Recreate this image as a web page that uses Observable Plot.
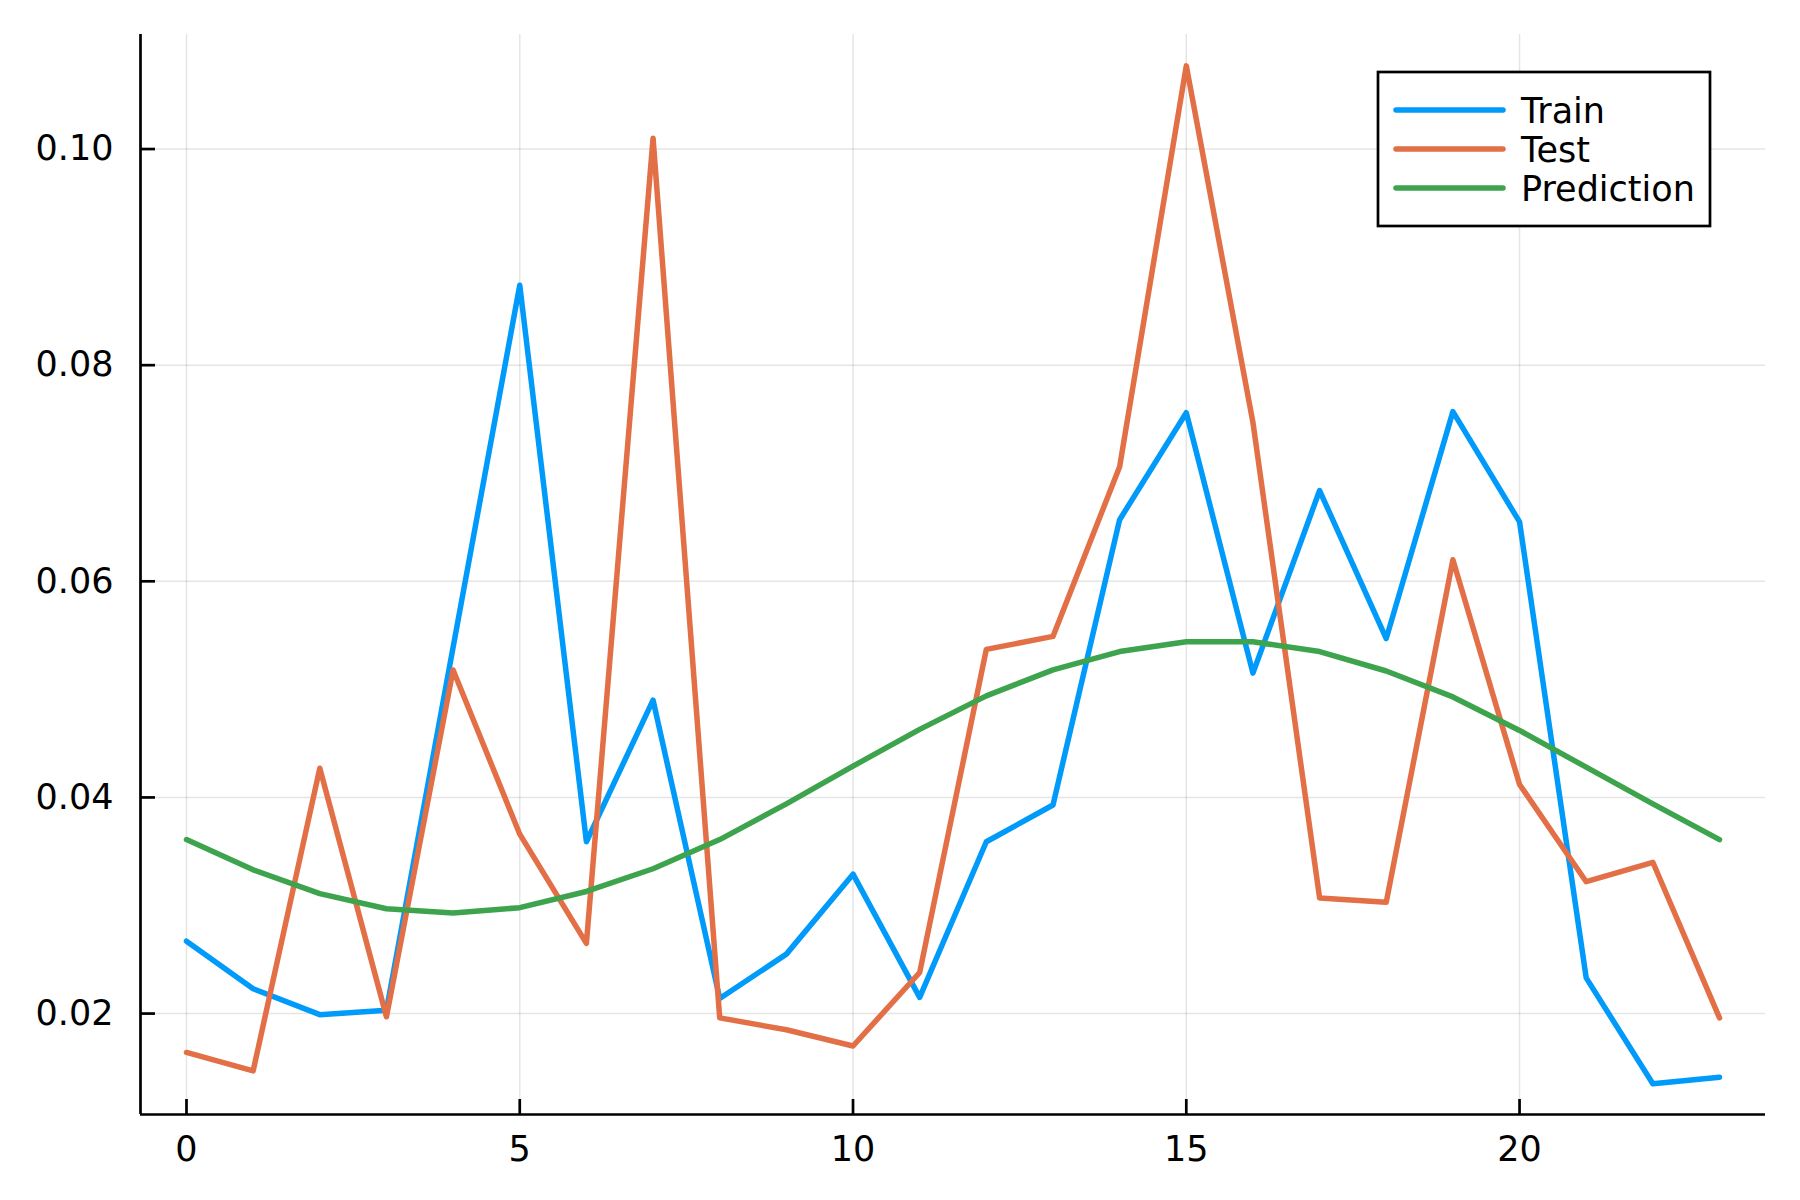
<!DOCTYPE html>
<html>
<head>
<meta charset="utf-8">
<script src="https://cdn.jsdelivr.net/npm/d3@7"></script>
<script src="https://cdn.jsdelivr.net/npm/@observablehq/plot@0.6"></script>
<style>
  html, body { margin: 0; padding: 0; background: #ffffff; }
  #chart { width: 1800px; height: 1200px; }
</style>
</head>
<body>
<div id="chart"></div>
<script>
// ---- data ----
const steps = [0,1,2,3,4,5,6,7,8,9,10,11,12,13,14,15,16,17,18,19,20,21,22,23];
const train = [0.0267,0.0223,0.0199,0.0203,0.0539,0.0874,0.0359,0.0490,0.0214,0.0255,0.0329,0.0215,
               0.0359,0.0393,0.0657,0.0756,0.0515,0.0684,0.0547,0.0757,0.0655,0.0233,0.0135,0.0141];
const test  = [0.0164,0.0147,0.0427,0.0197,0.0518,0.0366,0.0265,0.1010,0.0196,0.0185,0.0170,0.0238,
               0.0537,0.0549,0.0706,0.1077,0.0747,0.0307,0.0303,0.0620,0.0412,0.0322,0.0340,0.0196];
const prediction = [0.0361,0.0333,0.0311,0.0297,0.0293,0.0298,0.0313,0.0334,0.0361,0.0394,0.0429,0.0463,
                    0.0494,0.0518,0.0535,0.0544,0.0544,0.0535,0.0517,0.0493,0.0462,0.0428,0.0394,0.0361];
const seriesNames = ["Train", "Test", "Prediction"];
const seriesColors = ["#009afa", "#e26f46", "#3da44d"];
const xTicks = [0, 5, 10, 15, 20];
const yTicks = [0.02, 0.04, 0.06, 0.08, 0.10];
const xDomain = [-0.69, 23.69];
const yDomain = [0.01066, 0.1106];

// ---- build ----
const rows = [];
[train, test, prediction].forEach((vals, si) => {
  vals.forEach((v, i) => rows.push({step: steps[i], value: v, series: seriesNames[si]}));
});

const FONT = "DejaVu Sans, sans-serif";
const lineW = 5.5;

const chart = Plot.plot({
  width: 1800,
  height: 1200,
  marginLeft: 140,
  marginRight: 35,
  marginTop: 34,
  marginBottom: 86,
  style: { fontFamily: FONT, fontSize: "35px", background: "#ffffff", color: "#000000" },
  x: { domain: xDomain },
  y: { domain: yDomain },
  color: { domain: seriesNames, range: seriesColors },
  marks: [
    Plot.gridX(xTicks, { stroke: "#000", strokeOpacity: 0.1, strokeWidth: 1.5 }),
    Plot.gridY(yTicks, { stroke: "#000", strokeOpacity: 0.1, strokeWidth: 1.5 }),
    Plot.line(rows, {
      x: "step", y: "value", z: "series", stroke: "series",
      strokeWidth: lineW, strokeLinecap: "round", strokeLinejoin: "round"
    }),
    Plot.ruleX([xDomain[0]], { stroke: "#000", strokeWidth: 2.7 }),
    Plot.ruleY([yDomain[0]], { stroke: "#000", strokeWidth: 2.7 }),
    Plot.axisX(xTicks, { tickSize: -15, fill: "none", stroke: "#000", strokeWidth: 2.7, label: null }),
    Plot.axisX(xTicks, { tickSize: 0, tickPadding: 22, fill: "#000", label: null, tickFormat: d => String(d) }),
    Plot.axisY(yTicks, { tickSize: -15, fill: "none", stroke: "#000", strokeWidth: 2.7, label: null }),
    Plot.axisY(yTicks, { tickSize: 0, tickPadding: 27, fill: "#000", label: null, tickFormat: d3.format(".2f") })
  ]
});

document.getElementById("chart").appendChild(chart);

// ---- legend (inside plot, top right) ----
const svg = d3.select(chart);
const lg = svg.append("g").attr("font-family", FONT).attr("font-size", 35).attr("text-anchor", "start");
lg.append("rect")
  .attr("x", 1378).attr("y", 72).attr("width", 332).attr("height", 154)
  .attr("fill", "#ffffff").attr("stroke", "#000").attr("stroke-width", 2.7);
const rowY = [110, 149, 188];
seriesNames.forEach((name, i) => {
  lg.append("line")
    .attr("x1", 1396).attr("x2", 1503).attr("y1", rowY[i]).attr("y2", rowY[i])
    .attr("stroke", seriesColors[i]).attr("stroke-width", lineW).attr("stroke-linecap", "round");
  lg.append("text")
    .attr("x", 1521).attr("y", rowY[i] + 12.8)
    .attr("text-anchor", "start")
    .attr("fill", "#000").text(name);
});
</script>
</body>
</html>
